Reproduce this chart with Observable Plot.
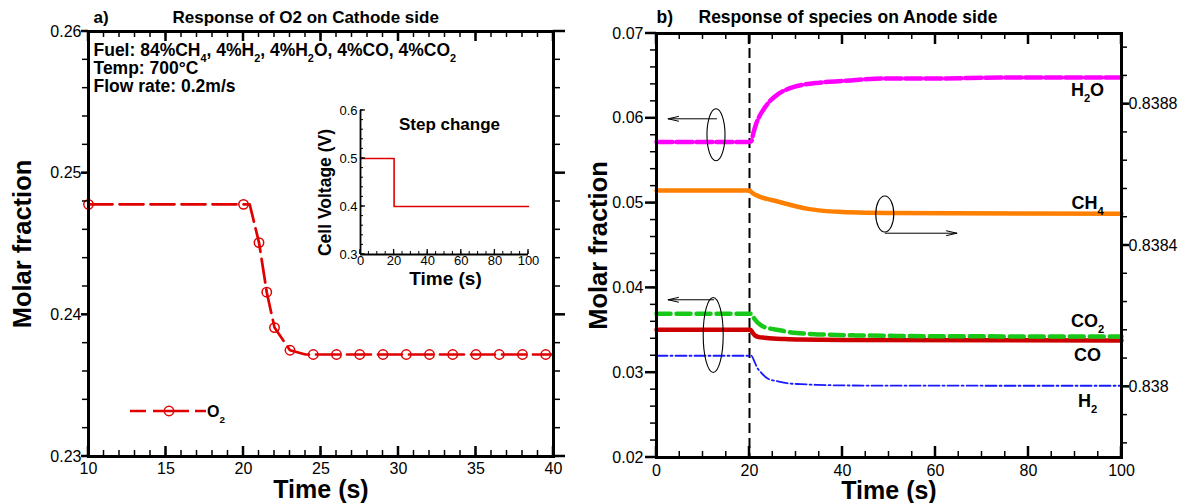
<!DOCTYPE html>
<html><head><meta charset="utf-8">
<script src="https://cdn.jsdelivr.net/npm/d3@7"></script>
<script src="https://cdn.jsdelivr.net/npm/@observablehq/plot@0.6"></script>
<style>
body{margin:0;background:#fff;}
#wrap{position:relative;width:1183px;height:503px;overflow:hidden;background:#fff;}
#wrap svg{position:absolute;overflow:visible;max-width:none;}
</style></head><body><div id="wrap"></div>
<script>
// ---------------- data: panel a (cathode O2) ----------------
const o2Time = [10, 20, 20.4, 21, 21.5, 22, 23, 24, 40];
const o2Frac = [0.2478, 0.2478, 0.2478, 0.2451, 0.2416, 0.2391, 0.2375, 0.2372, 0.2372];
const o2MarkerTime = [10, 20, 21, 21.5, 22, 23, 24.5, 26, 27.5, 29, 30.5, 32, 33.5, 35, 36.5, 38, 39.5];
const o2MarkerFrac = [0.2478, 0.2478, 0.2451, 0.2416, 0.2391, 0.2375, 0.2372, 0.2372, 0.2372, 0.2372, 0.2372, 0.2372, 0.2372, 0.2372, 0.2372, 0.2372, 0.2372];
const aTimeTicks = [10, 15, 20, 25, 30, 35, 40];
const aFracTicks = [0.23, 0.24, 0.25, 0.26];
const fuelInfo = ["Fuel: 84%CH_{4}, 4%H_{2}, 4%H_{2}O, 4%CO, 4%CO_{2}", "Temp: 700°C", "Flow rate: 0.2m/s"];
const legendA = ["O_{2}"];

// ---------------- data: inset (cell voltage step) ----------------
const voltTime = [0, 20, 100];
const voltage = [0.5, 0.4, 0.4];
const insetTimeTicks = [0, 20, 40, 60, 80, 100];
const insetVoltTicks = [0.3, 0.4, 0.5, 0.6];

// ---------------- data: panel b (anode species) ----------------
const h2oTime = [0, 20, 20.4, 20.8, 21.4, 22.2, 23.2, 24.5, 26, 28, 31, 35, 40, 45, 50, 60, 75, 100];
const h2oFrac = [0.0572, 0.0572, 0.0573, 0.0582, 0.0593, 0.0603, 0.0612, 0.0621, 0.0628, 0.0634, 0.0639, 0.0642, 0.0644, 0.0646, 0.0647, 0.0647, 0.0648, 0.0648];
const ch4Time = [0, 20, 20.5, 21.5, 25, 28.5, 32, 36, 40, 45, 50, 100];
const ch4Frac = [0.838556, 0.838556, 0.83855, 0.838542, 0.838528, 0.838516, 0.838505, 0.838498, 0.838495, 0.838493, 0.838492, 0.83849]; // right axis
const co2Time = [0, 20, 20.4, 21, 22.5, 24.5, 26.5, 29, 32.2, 36, 42.8, 50, 60, 100];
const co2Frac = [0.03695, 0.03695, 0.03695, 0.0364, 0.03557, 0.0352, 0.0350, 0.03475, 0.0346, 0.0345, 0.0344, 0.03435, 0.0343, 0.03427];
const coTime = [0, 20, 20.2, 20.7, 21.2, 22, 23.2, 25, 27.5, 30.5, 35, 40, 100];
const coFrac = [0.03506, 0.03506, 0.03506, 0.0347, 0.03439, 0.0342, 0.03412, 0.03402, 0.03396, 0.03392, 0.03388, 0.03385, 0.0338];
const h2Time = [0, 20, 20.4, 21, 21.6, 22.5, 24, 26, 28.1, 31, 34.6, 40, 50, 100];
const h2Frac = [0.0320, 0.0320, 0.0320, 0.0314, 0.03065, 0.0300, 0.02928, 0.0290, 0.02876, 0.02865, 0.02857, 0.0285, 0.02847, 0.02846];
const seriesLabels = ["H_{2}O", "CH_{4}", "CO_{2}", "CO", "H_{2}"];
const bTimeTicks = [0, 20, 40, 60, 80, 100];
const bFracTicks = [0.02, 0.03, 0.04, 0.05, 0.06, 0.07];
const bRightTicks = [0.838, 0.8384, 0.8388];
const bRightDomain = [0.8378, 0.839];
const stepTime = [20];
// annotation ellipses / arrows in data units (left axis)
const ellipses = [
  {t: 12.9, v: 0.0580, dt: 1.94, dv: 0.00307},
  {t: 49.2, v: 0.04866, dt: 1.94, dv: 0.00212},
  {t: 12.3, v: 0.03439, dt: 2.15, dv: 0.00442}
];
const arrows = [
  {t1: 12.9, t2: 2.5, v: 0.05994},
  {t1: 49.2, t2: 64.6, v: 0.04645},
  {t1: 12.3, t2: 2.5, v: 0.0386}
];

// ---------------- helpers ----------------
const font = "'Liberation Sans', Arial, Helvetica, sans-serif";
const zip = (xs, ys) => xs.map((t, i) => ({t, v: ys[i]}));
const wrap = document.getElementById("wrap");

function subscripts(svg) {
  d3.select(svg).selectAll("text").each(function () {
    const t = this.textContent;
    if (!t.includes("_{")) return;
    const sel = d3.select(this);
    sel.text(null);
    t.split(/(_\{[^}]*\})/).forEach(p => {
      if (!p) return;
      if (p.startsWith("_{")) sel.append("tspan").attr("font-size", "62%").attr("baseline-shift", "sub").text(p.slice(2, -1));
      else sel.append("tspan").text(p);
    });
  });
}
function place(svg, left, top) {
  svg.style.left = left + "px";
  svg.style.top = top + "px";
  wrap.appendChild(svg);
}
function scaleFn(plot, name) {
  const s = plot.scale(name);
  return s.apply ? (v) => s.apply(v) : d3.scaleLinear(s.domain, s.range);
}
// tick marks placed through the plot's own x/y scales
function drawTicks(plot, {xDom, yDom, xMajor = [], xMinor = [], yMajor = [], yMinor = [], xLen = [10, 6], yLenL = [8, 6], yLenR = null, rMajor = null, rMinor = null, top = true, yOut = true, sw = [2.5, 1.5]}) {
  const fx = scaleFn(plot, "x"), fy = scaleFn(plot, "y");
  const xl = fx(xDom[0]), xr = fx(xDom[1]), yb = fy(yDom[0]), yt = fy(yDom[1]);
  const g = d3.select(plot).append("g").attr("stroke", "black").attr("fill", "none");
  const seg = (x1, y1, x2, y2, w) => g.append("line").attr("x1", x1).attr("y1", y1).attr("x2", x2).attr("y2", y2).attr("stroke-width", w);
  const xt = (vals, len, w) => vals.forEach(v => {
    const x = fx(v);
    seg(x, yb, x, yb - len, w);
    if (top) seg(x, yt, x, yt + len, w);
  });
  xt(xMinor, xLen[1], sw[1]); xt(xMajor, xLen[0], sw[0]);
  const ytk = (vals, len, w) => vals.forEach(v => {
    const y = fy(v);
    if (yOut) seg(xl - len, y, xl, y, w); else seg(xl, y, xl + len, y, w);
  });
  ytk(yMinor, yLenL[1], sw[1]); ytk(yMajor, yLenL[0], sw[0]);
  if (yLenR) {
    (rMinor || yMinor).forEach(v => { const y = fy(v); seg(xr, y, xr + yLenR[1], y, sw[1]); });
    (rMajor || yMajor).forEach(v => { const y = fy(v); seg(xr, y, xr + yLenR[0], y, sw[0]); });
  }
}

// ================= Panel a =================
const red = "#e00000";
{
  const width = 590, height = 503, mL = 88, mR = 37, mT = 31, mB = 47;
  const H = height - mT - mB;
  const xDom = [10, 40], yDom = [0.23, 0.26];
  const plotA = Plot.plot({
    width, height, marginLeft: mL, marginRight: mR, marginTop: mT, marginBottom: mB,
    style: {fontFamily: font, background: "transparent", color: "black"},
    x: {domain: xDom, axis: null},
    y: {domain: yDom, axis: null},
    marks: [
      Plot.line(zip(o2Time, o2Frac), {x: "t", y: "v", stroke: red, strokeWidth: 2.7, strokeDasharray: "24,7"}),
      Plot.dot(zip(o2MarkerTime, o2MarkerFrac), {x: "t", y: "v", r: 4.7, stroke: red, strokeWidth: 1.5, fill: "none"}),
      Plot.frame({stroke: "black", strokeWidth: 3}),
      Plot.text(aTimeTicks, {x: d => d, text: d => String(d), frameAnchor: "bottom", lineAnchor: "middle", dy: 12, fontSize: 16}),
      Plot.text(aFracTicks, {y: d => d, text: d => d3.format(".2f")(d), frameAnchor: "left", lineAnchor: "middle", dx: -7, textAnchor: "end", fontSize: 16}),
      Plot.text(["a)"], {frameAnchor: "top-left", lineAnchor: "middle", dx: 5, dy: -14, textAnchor: "start", fontSize: 17, fontWeight: "bold"}),
      Plot.text(["Response of O2 on Cathode side"], {frameAnchor: "top-left", lineAnchor: "middle", dx: 84, dy: -14, textAnchor: "start", fontSize: 17, fontWeight: "bold"}),
      ...fuelInfo.map((s, i) => Plot.text([s], {frameAnchor: "top-left", lineAnchor: "middle", dx: 5, dy: 19 + 18 * i, textAnchor: "start", fontSize: 17.5, fontWeight: "bold"})),
      Plot.text(["Time (s)"], {frameAnchor: "bottom", lineAnchor: "middle", dy: 33, fontSize: 25, fontWeight: "bold"}),
      Plot.text(["Molar fraction"], {frameAnchor: "left", lineAnchor: "middle", textAnchor: "middle", dx: -66, rotate: -90, fontSize: 25.5, fontWeight: "bold"})
    ]
  });
  drawTicks(plotA, {xDom, yDom, xMajor: aTimeTicks, xMinor: d3.range(10, 40.001, 1), yMajor: aFracTicks, yMinor: d3.range(0.23, 0.2601, 0.002), xLen: [10, 6], yLenL: [7, 6], yLenR: [12, 7]});
  // legend
  const g = d3.select(plotA).append("g");
  const ly = mT + H - 45, lx = mL + 42;
  g.append("line").attr("x1", lx).attr("x2", lx + 76).attr("y1", ly).attr("y2", ly)
    .attr("stroke", red).attr("stroke-width", 2.7).attr("stroke-dasharray", "16,7,36,6");
  g.append("circle").attr("cx", lx + 39).attr("cy", ly).attr("r", 4.7)
    .attr("stroke", red).attr("stroke-width", 1.5).attr("fill", "none");
  g.append("text").attr("x", lx + 86).attr("y", ly).attr("dy", "0.35em")
    .attr("font-size", 16).attr("font-weight", "bold").attr("font-family", font).text(legendA[0]);
  subscripts(plotA);
  place(plotA, 0, 0);
}

// ================= Inset =================
{
  const width = 240, height = 190, mL = 60, mR = 12, mT = 15, mB = 31;
  const xDom = [0, 100], yDom = [0.3, 0.6];
  const plotI = Plot.plot({
    width, height, marginLeft: mL, marginRight: mR, marginTop: mT, marginBottom: mB,
    style: {fontFamily: font, background: "transparent", color: "black"},
    x: {domain: xDom, axis: null},
    y: {domain: yDom, axis: null},
    marks: [
      Plot.line(zip(voltTime, voltage), {x: "t", y: "v", curve: "step-after", stroke: red, strokeWidth: 1.6}),
      Plot.ruleX([0], {stroke: "black", strokeWidth: 1.8}),
      Plot.ruleY([0.3], {stroke: "black", strokeWidth: 1.8}),
      Plot.text(insetTimeTicks, {x: d => d, text: d => String(d), frameAnchor: "bottom", lineAnchor: "middle", dy: 6, fontSize: 13}),
      Plot.text(insetVoltTicks, {y: d => d, text: d => d3.format(".1f")(d), frameAnchor: "left", lineAnchor: "middle", dx: -3, textAnchor: "end", fontSize: 13}),
      Plot.text(["Step change"], {frameAnchor: "top-left", lineAnchor: "middle", dx: 89, dy: 14, textAnchor: "middle", fontSize: 17, fontWeight: "bold"}),
      Plot.text(["Time (s)"], {frameAnchor: "bottom", lineAnchor: "middle", dx: 1, dy: 24, fontSize: 19, fontWeight: "bold"}),
      Plot.text(["Cell Voltage (V)"], {frameAnchor: "left", lineAnchor: "middle", textAnchor: "middle", dx: -35, dy: 10, rotate: -90, fontSize: 17.5, fontWeight: "bold"})
    ]
  });
  drawTicks(plotI, {xDom, yDom, xMajor: insetTimeTicks, xMinor: d3.range(0, 100.001, 5), yMajor: insetVoltTicks, yMinor: d3.range(0.3, 0.6001, 0.02), xLen: [5, 3], yLenL: [5, 3], top: false, yOut: false, sw: [1.3, 1]});
  place(plotI, 300, 95);
}

// ================= Panel b =================
{
  const width = 593, height = 503, mL = 66, mR = 62, mT = 33, mB = 46;
  const xDom = [0, 100], yDom = [0.02, 0.07];
  const toLeft = v => yDom[0] + (v - bRightDomain[0]) / (bRightDomain[1] - bRightDomain[0]) * (yDom[1] - yDom[0]);
  const h2o = zip(h2oTime, h2oFrac), ch4 = zip(ch4Time, ch4Frac.map(toLeft)), co2 = zip(co2Time, co2Frac), co = zip(coTime, coFrac), h2 = zip(h2Time, h2Frac);
  const last = a => a[a.length - 1];
  const labelOffsets = [12.5, -10, -15, 15, 15];
  const series = [h2o, ch4, co2, co, h2];
  const plotB = Plot.plot({
    width, height, marginLeft: mL, marginRight: mR, marginTop: mT, marginBottom: mB,
    style: {fontFamily: font, background: "transparent", color: "black"},
    x: {domain: xDom, axis: null},
    y: {domain: yDom, axis: null},
    marks: [
      Plot.ruleX(stepTime, {stroke: "black", strokeWidth: 2, strokeDasharray: "10,5"}),
      Plot.line(h2, {x: "t", y: "v", curve: "monotone-x", stroke: "#1a1aff", strokeWidth: 1.8, strokeDasharray: "11,3,2,3"}),
      Plot.line(co, {x: "t", y: "v", curve: "monotone-x", stroke: "#cc0000", strokeWidth: 4.5}),
      Plot.line(co2, {x: "t", y: "v", curve: "monotone-x", stroke: "#18c818", strokeWidth: 4.5, strokeDasharray: "14,6"}),
      Plot.line(ch4, {x: "t", y: "v", curve: "monotone-x", stroke: "#ff8000", strokeWidth: 4.5}),
      Plot.line(h2o, {x: "t", y: "v", curve: "monotone-x", stroke: "#ff00ff", strokeWidth: 4.5, strokeDasharray: "16,4"}),
      Plot.arrow(arrows, {x1: "t1", x2: "t2", y1: "v", y2: "v", stroke: "black", strokeWidth: 1, headLength: 16, headAngle: 26}),
      Plot.frame({stroke: "black", strokeWidth: 3}),
      Plot.text(bTimeTicks, {x: d => d, text: d => String(d), frameAnchor: "bottom", lineAnchor: "middle", dy: 13, fontSize: 16}),
      Plot.text(bFracTicks, {y: d => d, text: d => d3.format(".2f")(d), frameAnchor: "left", lineAnchor: "middle", dx: -13, textAnchor: "end", fontSize: 16}),
      Plot.text(bRightTicks, {y: d => toLeft(d), text: d => String(d), frameAnchor: "right", lineAnchor: "middle", dx: 7, textAnchor: "start", fontSize: 16}),
      ...series.map((s, i) => Plot.text([seriesLabels[i]], {x: 100, y: last(s).v, dx: -34, dy: labelOffsets[i], textAnchor: "middle", lineAnchor: "middle", fontSize: 18, fontWeight: "bold"})),
      Plot.text(["b)"], {frameAnchor: "top-left", lineAnchor: "middle", dx: 0, dy: -16, textAnchor: "start", fontSize: 17.5, fontWeight: "bold"}),
      Plot.text(["Response of species on Anode side"], {frameAnchor: "top-left", lineAnchor: "middle", dx: 42, dy: -16, textAnchor: "start", fontSize: 17.5, fontWeight: "bold"}),
      Plot.text(["Time (s)"], {frameAnchor: "bottom", lineAnchor: "middle", dy: 33, fontSize: 25, fontWeight: "bold"}),
      Plot.text(["Molar fraction"], {frameAnchor: "left", lineAnchor: "middle", textAnchor: "middle", dx: -58, rotate: -90, fontSize: 25.5, fontWeight: "bold"})
    ]
  });
  drawTicks(plotB, {xDom, yDom, xMajor: bTimeTicks, xMinor: d3.range(0, 100.001, 5), yMajor: bFracTicks, yMinor: d3.range(0.02, 0.0701, 0.002), xLen: [11, 6], yLenL: [11, 6], yLenR: [8, 6],
    rMajor: bRightTicks.map(toLeft), rMinor: d3.range(0.83784, 0.83897, 0.00008).map(toLeft)});
  const fx = scaleFn(plotB, "x"), fy = scaleFn(plotB, "y");
  d3.select(plotB).append("g").selectAll("ellipse").data(ellipses).join("ellipse")
    .attr("cx", d => fx(d.t)).attr("cy", d => fy(d.v))
    .attr("rx", d => Math.abs(fx(d.t + d.dt) - fx(d.t)))
    .attr("ry", d => Math.abs(fy(d.v + d.dv) - fy(d.v)))
    .attr("fill", "none").attr("stroke", "black").attr("stroke-width", 1.1);
  subscripts(plotB);
  place(plotB, 590, 0);
}
</script></body></html>
